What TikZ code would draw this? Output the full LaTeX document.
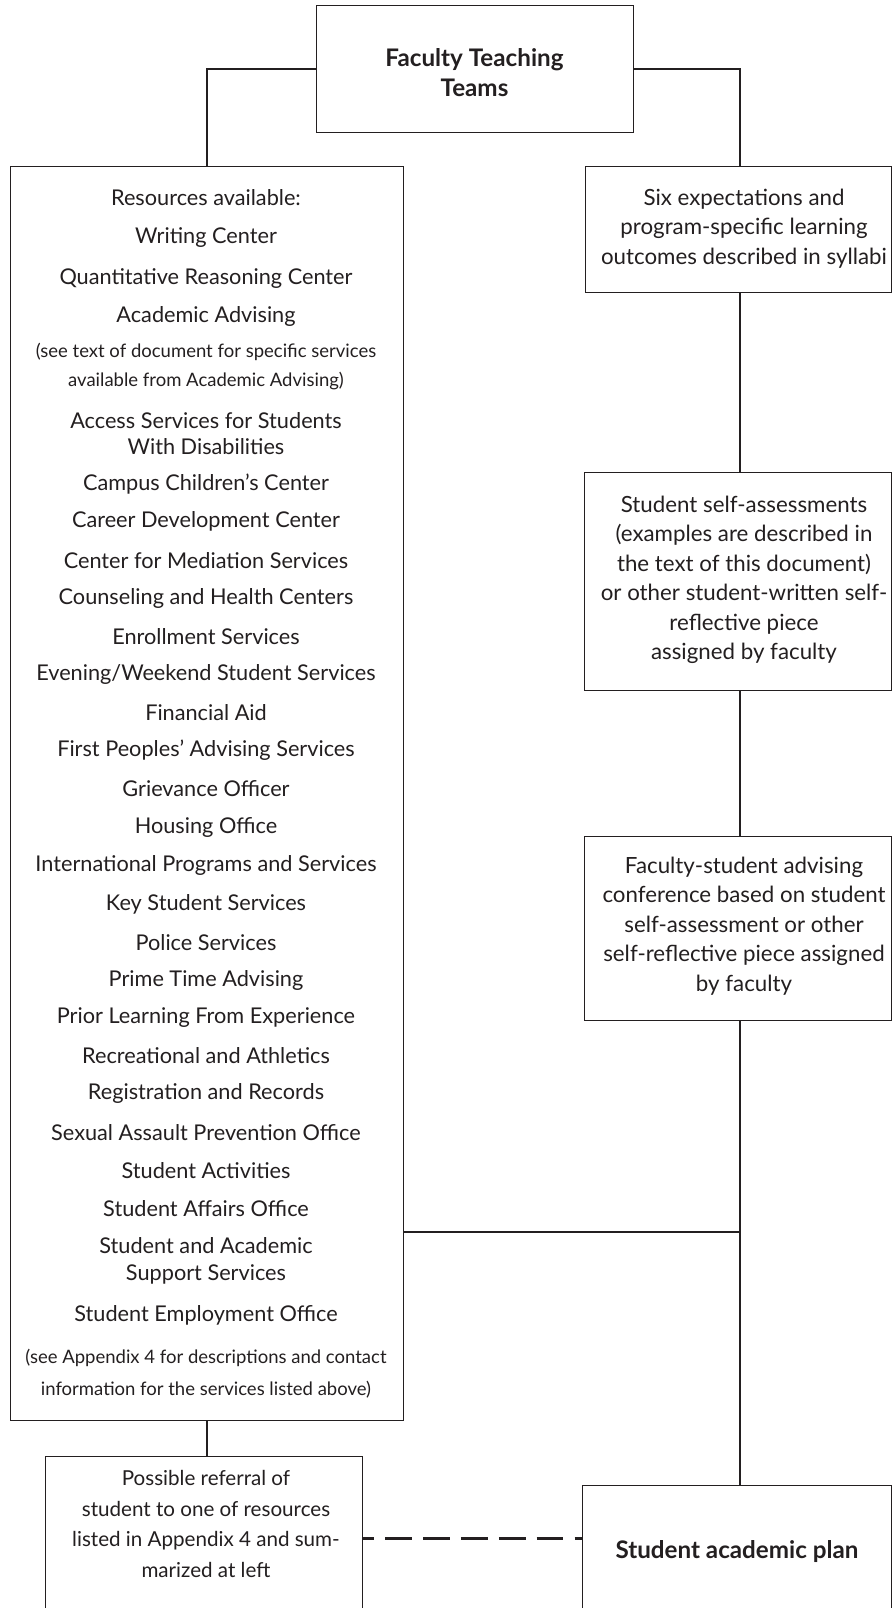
\documentclass[tikz,border=0pt]{standalone}
\usepackage{fontspec}
\setmainfont{Lato}
\definecolor{ink}{RGB}{35,31,32}
\begin{document}
\begin{tikzpicture}[x=1pt,y=-1pt,
  box/.style={draw=ink, line width=1.2pt, fill=white, inner sep=0pt, anchor=north west},
  conn/.style={draw=ink, line width=2.4pt},
  dconn/.style={draw=ink, line width=3pt, dash pattern=on 26.7pt off 11.2pt, dash phase=16pt},
  txt/.style={text=ink, font=\fontsize{22.3}{29.5}\selectfont, align=center, inner sep=0pt, yshift=-3pt},
  item/.style={text=ink, font=\fontsize{21.7}{26.7}\selectfont, align=center, inner sep=0pt, yshift=-3pt},
  sm/.style={text=ink, font=\fontsize{18.5}{20}\selectfont, inner sep=0pt, yshift=-2pt},
  reft/.style={text=ink, font=\fontsize{20.6}{30.4}\selectfont, align=center, inner sep=0pt, yshift=-2pt},
  bold/.style={text=ink, font=\fontsize{24.2}{30}\selectfont\bfseries, align=center, inner sep=0pt, yshift=-2pt}]
\useasboundingbox (0,0) rectangle (892,1608);
\coordinate (sp) at (740,0);
\coordinate (hj) at (740,1232);
\coordinate (dy) at (0,1538);
% boxes
\node[box, minimum width=317pt, minimum height=127pt] (top) at (316,5) {};
\node[box, minimum width=393pt, minimum height=1254pt] (res) at (10,166) {};
\node[box, minimum width=306pt, minimum height=126pt] (six) at (585,166) {};
\node[box, minimum width=307pt, minimum height=218pt] (self) at (584,472) {};
\node[box, minimum width=307pt, minimum height=184pt] (conf) at (584,836) {};
\node[box, minimum width=309pt, minimum height=140pt] (plan) at (582,1485) {};
\node[box, minimum width=317pt, minimum height=170pt] (ref) at (45,1456) {};
% connectors
\draw[conn] (top.west) -| (res.north);
\draw[conn] (top.east) -| (six.north -| sp);
\draw[conn] (six.south -| sp) -- (self.north -| sp);
\draw[conn] (self.south -| sp) -- (conf.north -| sp);
\draw[conn] (conf.south -| sp) -- (plan.north -| sp);
\draw[conn] (res.east |- hj) -- (hj);
\draw[conn] (res.south) -- (res.south |- ref.north);
\draw[dconn] (ref.east |- dy) -- (plan.west |- dy);
% texts
\node[bold] (ttop) at (474.5,71) {Faculty Teaching\\Teams};
\node[txt] (tsix) at (744,225.2) {Six expectations and\\program-specific learning\\outcomes described in syllabi};
\node[txt] (tself) at (744,576.7) {Student self-assessments\\(examples are described in\\the text of this document)\\or other student-written self-\\reflective piece\\assigned by faculty};
\node[txt] (tconf) at (744,923) {Faculty-student advising\\conference based on student\\self-assessment or other\\self-reflective piece assigned\\by faculty};
\node[reft] (tref) at (206,1522) {Possible referral of\\student to one of resources\\listed in Appendix 4 and sum-\\marized at left};
\node[bold] (tplan) at (737,1550) {Student academic plan};
% resources list
\node[item] (r1) at (206,194.8) {Resources available:};
\node[item] (r2) at (206,234.8) {Writing Center};
\node[item] (r3) at (206,275.8) {Quantitative Reasoning Center};
\node[item] (r4) at (206,313.7) {Academic Advising};
\node[sm] (r5) at (206,349.6) {(see text of document for specific services};
\node[sm] (r6) at (206,379.4) {available from Academic Advising)};
\node[item] (r7) at (206,430.6) {Access Services for Students\\With Disabilities};
\node[item] (r8) at (206,480.9) {Campus Children’s Center};
\node[item] (r9) at (206,518.8) {Career Development Center};
\node[item] (r10) at (206,557.8) {Center for Mediation Services};
\node[item] (r11) at (206,595.7) {Counseling and Health Centers};
\node[item] (r12) at (206,633.6) {Enrollment Services};
\node[item] (r13) at (206,671.6) {Evening/Weekend Student Services};
\node[item] (r14) at (206,709.5) {Financial Aid};
\node[item] (r15) at (206,747.4) {First Peoples’ Advising Services};
\node[item] (r16) at (206,785.4) {Grievance Officer};
\node[item] (r17) at (206,824.3) {Housing Office};
\node[item] (r18) at (206,862.3) {International Programs and Services};
\node[item] (r19) at (206,901.2) {Key Student Services};
\node[item] (r20) at (206,939.2) {Police Services};
\node[item] (r21) at (206,977.1) {Prime Time Advising};
\node[item] (r22) at (206,1015.0) {Prior Learning From Experience};
\node[item] (r23) at (206,1053.0) {Recreational and Athletics};
\node[item] (r24) at (206,1090.9) {Registration and Records};
\node[item] (r25) at (206,1129.9) {Sexual Assault Prevention Office};
\node[item] (r26) at (206,1167.8) {Student Activities};
\node[item] (r27) at (206,1205.8) {Student Affairs Office};
\node[item] (r28) at (206,1258.0) {Student and Academic\\Support Services};
\node[item] (r29) at (206,1312.4) {Student Employment Office};
\node[sm] (r30) at (206,1355.4) {(see Appendix 4 for descriptions and contact};
\node[sm] (r31) at (206,1387.2) {information for the services listed above)};
\end{tikzpicture}
\end{document}
